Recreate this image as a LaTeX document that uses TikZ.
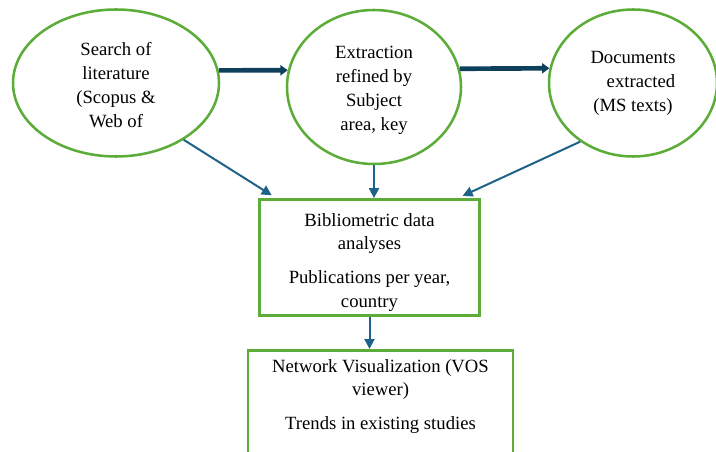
\documentclass[tikz,border=0pt]{standalone}
\usepackage{fontspec}
\setmainfont{Liberation Serif}
\usetikzlibrary{arrows.meta,shapes.geometric}

\definecolor{boxgreen}{RGB}{92,172,58}
\definecolor{flownavy}{RGB}{14,64,92}
\definecolor{flowblue}{RGB}{30,98,135}

\tikzset{
  stage/.style={ellipse, draw=boxgreen, line width=1.9pt, inner sep=0pt, align=center,
    font=\fontsize{14pt}{18pt}\selectfont},
  stepbox/.style={rectangle, draw=boxgreen, line width=1.9pt, align=center},
  mainflow/.style={draw=flownavy, line width=3.5pt, -{Triangle[length=5.5pt,width=7.5pt]}},
  subflow/.style={draw=flowblue, line width=1.5pt, -{Triangle[length=7.5pt,width=7.5pt]}},
}

\begin{document}
\begin{tikzpicture}[x=0.75pt, y=-0.75pt, font=\fontsize{14pt}{17.5pt}\selectfont]
\useasboundingbox (0,0) rectangle (716,452);
\clip (0,0) rectangle (716,452);

% top row of stages
\node[stage, minimum width=154.5pt, minimum height=110.25pt] (search) at (116,83)
  {\rule{0pt}{13.5pt}Search of\\literature\\(Scopus \&\\Web of};
\node[stage, minimum width=130.5pt, minimum height=115.5pt] (refine) at (374,87)
  {\rule{0pt}{15pt}Extraction\\refined by\\Subject\\area, key};
\node[stage, minimum width=126pt, minimum height=110.25pt] (docs) at (633,83)
  {Documents\\\hspace*{0.85em}extracted\\(MS texts)};

% analysis boxes
\node[stepbox, minimum width=165pt, minimum height=84.75pt] (analysis) at (369.5,257.5)
  {\rule{0pt}{17pt}Bibliometric data\\analyses\\[8pt]Publications per year,\\country};
\node[stepbox, anchor=north, minimum width=198.75pt, inner ysep=7pt, text depth=70pt] (network) at (380.5,349)
  {Network Visualization (VOS\\viewer)\\[8pt]Trends in existing studies};

% thick arrows along the top
\draw[mainflow] (search.7) -- (refine.169);
\draw[mainflow] (refine.12) -- (docs.170);

% arrows down into the boxes
\draw[subflow, shorten >=4pt] (search.-40) -- ([xshift=13.5pt]analysis.north west);
\draw[subflow] (refine.south) -- (refine.south |- analysis.north);
\draw[subflow, shorten >=4pt] (docs.-132) -- ([xshift=-17.25pt]analysis.north east);
\draw[subflow] (analysis.south) -- (analysis.south |- network.north);

\end{tikzpicture}
\end{document}
